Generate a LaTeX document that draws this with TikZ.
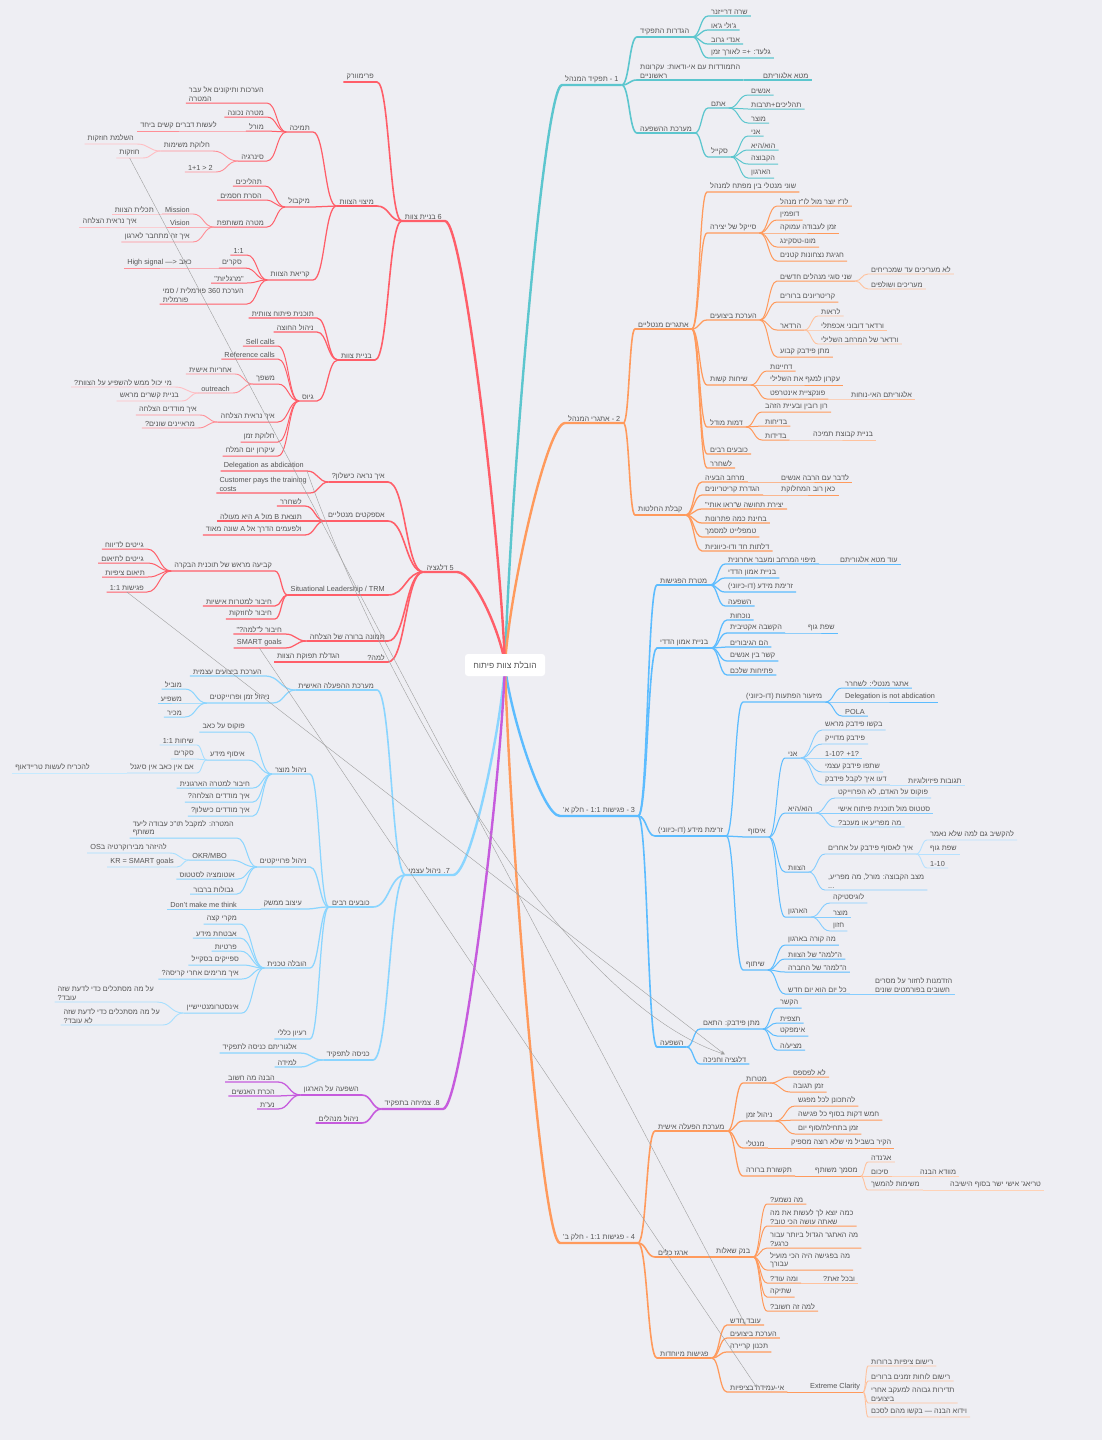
\documentclass[tikz,border=0pt]{standalone}
\usepackage{fontspec}
\usepackage{tikz}
\usepackage{xcolor}
\usetikzlibrary{calc, arrows.meta}
\setmainfont{Liberation Sans}
\newfontfamily\hebfont[Script=Hebrew]{Liberation Sans}
\TeXXeTstate=1
\newcommand{\hw}[1]{{\hebfont\beginR #1\endR}}
\definecolor{MapBg}{HTML}{EEEEF3}
\definecolor{MapText}{HTML}{555555}
\definecolor{MapTeal}{HTML}{5CC6CE}
\definecolor{MapOrange}{HTML}{FF9A5C}
\definecolor{MapBlue}{HTML}{5CBCFF}
\definecolor{MapSky}{HTML}{8AD5FF}
\definecolor{MapRed}{HTML}{FF5E69}
\definecolor{MapPurple}{HTML}{C65BDD}

\begin{document}
\begin{tikzpicture}[x=1pt, y=-1pt,
    every node/.style={font=\fontsize{7.3}{8.6}\selectfont, text=MapText, inner xsep=3pt, inner ysep=1.6pt},
    rt/.style={anchor=south west},
    lt/.style={anchor=south east},
    w0/.style={line width=2.4pt},
    w1/.style={line width=1.6pt},
    w2/.style={line width=1.25pt},
    w3/.style={line width=1pt},
    w4/.style={line width=0.9pt},
    link/.style={to path={let \p1=(\tikztostart), \p2=(\tikztotarget) in
        .. controls ({(\x1+\x2)/2},\y1) and ({(\x1+\x2)/2},\y2) .. (\tikztotarget)}},
    rel/.style={draw=gray!75, line width=0.4pt, -{Stealth[length=4pt,width=3pt]}},
    rootbox/.style={fill=white, rounded corners=3pt, minimum width=80pt, minimum height=22pt,
        font=\fontsize{8.5}{10}\selectfont}]
    \useasboundingbox[fill=MapBg] (0,0) rectangle (1102,1440);
    \coordinate (hub) at (505,665);

    % 1 - role of the manager
    \node[rt] (s1) at (562,85) {\hw{1 - תפקיד המנהל}};
    \node[rt] (s1a) at (637,37) {\hw{הגדרות התפקיד}};
    \node[rt] (s1a1) at (708,16) {\hw{שרה דרייזנר}};
    \node[rt] (s1a2) at (708,30) {\hw{ג'ולי ג'או}};
    \node[rt] (s1a3) at (708,44) {\hw{אנדי גרוב}};
    \node[rt] (s1a4) at (708,58) {\hw{גלעד: += לאורך זמן}};
    \node[rt, align=left] (s1b) at (637,80) {\hw{התמודדות עם אי-ודאות: עקרונות}\\\hw{ראשוניים}};
    \node[rt] (s1b1) at (760,80) {\hw{מטא אלגוריתם}};
    \node[rt] (s1c) at (637,133) {\hw{מערכת ההשפעה}};
    \node[rt] (s1c1) at (708,108) {\hw{אתם}};
    \node[rt] (s1c1a) at (748,95) {\hw{אנשים}};
    \node[rt] (s1c1b) at (748,109) {\hw{תהליכים+תרבות}};
    \node[rt] (s1c1c) at (748,123) {\hw{מוצר}};
    \node[rt] (s1c2) at (708,157) {\hw{סקייל}};
    \node[rt] (s1c2a) at (748,136) {\hw{אני}};
    \node[rt] (s1c2b) at (748,150) {\hw{הוא/היא}};
    \node[rt] (s1c2c) at (748,164) {\hw{הקבוצה}};
    \node[rt] (s1c2d) at (748,178) {\hw{הארגון}};

    % 2 - challenges
    \node[rt] (s2) at (565,423) {\hw{2 - אתגרי המנהל}};
    \node[rt] (s2a) at (635,329) {\hw{אתגרים מנטליים}};
    \node[rt] (s2a1) at (707,192) {\hw{שוני מנטלי בין מפתח למנהל}};
    \node[rt] (s2a2) at (707,233) {\hw{סייקל של יצירה}};
    \node[rt] (s2a2a) at (777,206) {\hw{לו"ז יוצר מול לו"ז מנהל}};
    \node[rt] (s2a2b) at (777,220) {\hw{דופמין}};
    \node[rt] (s2a2c) at (777,233) {\hw{זמן לעבודה עמוקה}};
    \node[rt] (s2a2d) at (777,247) {\hw{מונו-טסקינג}};
    \node[rt] (s2a2e) at (777,261) {\hw{חגיגת נצחונות קטנים}};
    \node[rt] (s2a3) at (707,320) {\hw{הערכת ביצועים}};
    \node[rt] (s2a3a) at (777,281) {\hw{שני סוגי מנהלים חדשים}};
    \node[rt] (s2a3a1) at (868,274) {\hw{לא מעריכים עד שמכריחים}};
    \node[rt] (s2a3a2) at (868,289) {\hw{מעריכים ושולפים}};
    \node[rt] (s2a3b) at (777,302) {\hw{קריטריונים ברורים}};
    \node[rt] (s2a3c) at (777,330) {\hw{הרדאר}};
    \node[rt] (s2a3c1) at (818,316) {\hw{לראות}};
    \node[rt] (s2a3c2) at (818,330) {\hw{ורדאר דובוני אכפתלי}};
    \node[rt] (s2a3c3) at (818,344) {\hw{ורדאר של המרחב השלילי}};
    \node[rt] (s2a3d) at (777,357) {\hw{מתן פידבק קבוע}};
    \node[rt] (s2a4) at (707,385) {\hw{שיחות קשות}};
    \node[rt] (s2a4a) at (767,371) {\hw{דחיינות}};
    \node[rt] (s2a4b) at (767,385) {\hw{עקרון למגף את השלילי}};
    \node[rt] (s2a4c) at (767,399) {\hw{פונקציית אינטרפט}};
    \node[rt] (s2a4c1) at (848,399) {\hw{אלגוריתם האי-נוחות}};
    \node[rt] (s2a5) at (707,427) {\hw{דמות מודל}};
    \node[rt] (s2a5a) at (762,412) {\hw{רון רובין ובעיית הזהב}};
    \node[rt] (s2a5b) at (762,426) {\hw{בדיחות}};
    \node[rt] (s2a5c) at (762,440) {\hw{בדידות}};
    \node[rt] (s2a5c1) at (810,440) {\hw{בניית קבוצת תמיכה}};
    \node[rt] (s2a6) at (707,454) {\hw{כובעים רבים}};
    \node[rt] (s2a7) at (707,468) {\hw{לשחרר}};
    \node[rt] (s2b) at (635,515) {\hw{קבלת החלטות}};
    \node[rt] (s2b1) at (702,482) {\hw{מרחב הבעיה}};
    \node[rt] (s2b1a) at (778,482) {\hw{לדבר עם הרבה אנשים}};
    \node[rt] (s2b2) at (702,495) {\hw{הגדרת קריטריונים}};
    \node[rt] (s2b2a) at (778,495) {\hw{כאן רוב המחלוקת}};
    \node[rt] (s2b3) at (702,509) {\hw{יצירת תחושה ש"ראו אותי"}};
    \node[rt] (s2b4) at (702,523) {\hw{בחינת כמה פתרונות}};
    \node[rt] (s2b5) at (702,537) {\hw{טמפלייט למסמך}};
    \node[rt] (s2b6) at (702,551) {\hw{דלתות חד ודו-כיווניות}};

    % 3 - one on ones, part a
    \node[rt] (s3) at (560,816) {\hw{3 - פגישות 1:1 - חלק א'}};
    \node[rt] (s3a) at (657,585) {\hw{מטרת הפגישות}};
    \node[rt] (s3a1) at (725,564) {\hw{מיפוי המרחב ומעבר אחרונית}};
    \node[rt] (s3a1a) at (837,564) {\hw{עוד מטא אלגוריתם}};
    \node[rt] (s3a2) at (725,578) {\hw{בניית אמון הדדי}};
    \node[rt] (s3a3) at (725,592) {\hw{זרימת מידע (דו-כיווני)}};
    \node[rt] (s3a4) at (725,606) {\hw{השפעה}};
    \node[rt] (s3b) at (657,648) {\hw{בניית אמון הדדי}};
    \node[rt] (s3b1) at (727,620) {\hw{נוכחות}};
    \node[rt] (s3b2) at (727,633) {\hw{הקשבה אקטיבית}};
    \node[rt] (s3b2a) at (805,633) {\hw{שפת גוף}};
    \node[rt] (s3b3) at (727,647) {\hw{הם הגיבורים}};
    \node[rt] (s3b4) at (727,661) {\hw{קשר בין אנשים}};
    \node[rt] (s3b5) at (727,675) {\hw{פתיחות שלכם}};
    \node[rt] (s3c) at (655,836) {\hw{זרימת מידע (דו-כיווני)}};
    \node[rt] (s3c1) at (743,702) {\hw{מיזעור הפתעות (דו-כיווני)}};
    \node[rt] (s3c1a) at (842,688) {\hw{אתגר מנטלי: לשחרר}};
    \node[rt] (s3c1b) at (842,702) {Delegation is not abdication};
    \node[rt] (s3c1c) at (842,716) {POLA};
    \node[rt] (s3c2) at (745,837) {\hw{איסוף}};
    \node[rt] (s3c2a) at (785,758) {\hw{אני}};
    \node[rt] (s3c2a1) at (822,730) {\hw{בקשו פידבק מראש}};
    \node[rt] (s3c2a2) at (822,744) {\hw{פידבק מדוייק}};
    \node[rt] (s3c2a3) at (822,758) {1-10? +1?};
    \node[rt] (s3c2a4) at (822,772) {\hw{שתפו פידבק עצמי}};
    \node[rt] (s3c2a5) at (822,785) {\hw{דעו איך לקבל פידבק}};
    \node[rt] (s3c2a5a) at (905,785) {\hw{תגובות פיזיולוגיות}};
    \node[rt] (s3c2b) at (785,813) {\hw{הוא/היא}};
    \node[rt] (s3c2b1) at (835,798) {\hw{פוקוס על האדם, לא הפרוייקט}};
    \node[rt] (s3c2b2) at (835,813) {\hw{סטטוס מול תוכנית פיתוח אישי}};
    \node[rt] (s3c2b3) at (835,827) {\hw{מה מפריע או מעכב?}};
    \node[rt] (s3c2c) at (785,872) {\hw{הצוות}};
    \node[rt] (s3c2c1) at (825,854) {\hw{איך לאסוף פידבק על אחרים}};
    \node[rt] (s3c2c1a) at (927,840) {\hw{להקשיב גם למה שלא נאמר}};
    \node[rt] (s3c2c1b) at (927,854) {\hw{שפת גוף}};
    \node[rt] (s3c2c1c) at (927,868) {1-10};
    \node[rt, align=left] (s3c2c2) at (825,890) {\hw{מצב הקבוצה: מורל, מה מפריע,}\\...};
    \node[rt] (s3c2d) at (785,917) {\hw{הארגון}};
    \node[rt] (s3c2d1) at (830,903) {\hw{לוגיסטיקה}};
    \node[rt] (s3c2d2) at (830,917) {\hw{מוצר}};
    \node[rt] (s3c2d3) at (830,931) {\hw{חזון}};
    \node[rt] (s3c3) at (743,970) {\hw{שיתוף}};
    \node[rt] (s3c3a) at (785,945) {\hw{מה קורה בארגון}};
    \node[rt] (s3c3b) at (785,959) {\hw{ה"למה" של הצוות}};
    \node[rt] (s3c3c) at (785,972) {\hw{ה"למה" של החברה}};
    \node[rt] (s3c3d) at (785,994) {\hw{כל יום הוא יום חדש}};
    \node[rt, align=left] (s3c3d1) at (872,994) {\hw{הזדמנות לחזור על מסרים}\\\hw{חשובים בפורמטים שונים}};
    \node[rt] (s3d) at (657,1047) {\hw{השפעה}};
    \node[rt] (s3d1) at (700,1029) {\hw{מתן פידבק: התאם}};
    \node[rt] (s3d1a) at (777,1008) {\hw{הקשר}};
    \node[rt] (s3d1b) at (777,1023) {\hw{תצפית}};
    \node[rt] (s3d1c) at (777,1036) {\hw{אימפקט}};
    \node[rt] (s3d1d) at (777,1050) {\hw{מציע/ה}};
    \node[rt] (s3d2) at (700,1064) {\hw{דלגציה וחניכה}};

    % 4 - one on ones, part b
    \node[rt] (s4) at (560,1243) {\hw{4 - פגישות 1:1 - חלק ב'}};
    \node[rt] (s4a) at (655,1131) {\hw{מערכת הפעלה אישית}};
    \node[rt] (s4a1) at (743,1083) {\hw{מטרות}};
    \node[rt] (s4a1a) at (790,1077) {\hw{לא לפספס}};
    \node[rt] (s4a1b) at (790,1092) {\hw{זמן תגובה}};
    \node[rt] (s4a2) at (743,1121) {\hw{ניהול זמן}};
    \node[rt] (s4a2a) at (795,1106) {\hw{להתכונן לכל מפגש}};
    \node[rt] (s4a2b) at (795,1120) {\hw{חמש דקות בסוף כל פגישה}};
    \node[rt] (s4a2c) at (795,1134) {\hw{זמן בתחילת/סוף יום}};
    \node[rt] (s4a3) at (743,1148) {\hw{מנטלי}};
    \node[rt] (s4a3a) at (788,1148) {\hw{הקיר בשביל מי שלא רוצה מספיק}};
    \node[rt] (s4a4) at (743,1176) {\hw{תקשורת ברורה}};
    \node[rt] (s4a4a) at (812,1176) {\hw{מסמך משותף}};
    \node[rt] (s4a4a1) at (868,1162) {\hw{אג'נדה}};
    \node[rt] (s4a4a2) at (868,1176) {\hw{סיכום}};
    \node[rt] (s4a4a2a) at (917,1176) {\hw{מוודא הבנה}};
    \node[rt] (s4a4a3) at (868,1190) {\hw{משימות להמשך}};
    \node[rt] (s4a4a3a) at (947,1190) {\hw{טריאג' אישי ישר בסוף הישיבה}};
    \node[rt] (s4b) at (655,1257) {\hw{ארגז כלים}};
    \node[rt] (s4b1) at (713,1257) {\hw{בנק שאלות}};
    \node[rt] (s4b1a) at (767,1204) {\hw{מה נשמע?}};
    \node[rt, align=left] (s4b1b) at (767,1226) {\hw{כמה יוצא לך לעשות את מה}\\\hw{שאתה עושה הכי טוב?}};
    \node[rt, align=left] (s4b1c) at (767,1248) {\hw{מה האתגר הגדול ביותר עבור}\\\hw{כרגע?}};
    \node[rt, align=left] (s4b1d) at (767,1270) {\hw{מה בפגישה היה הכי מועיל}\\\hw{עבורך}};
    \node[rt] (s4b1e) at (767,1283) {\hw{ומה עוד?}};
    \node[rt] (s4b1e1) at (820,1283) {\hw{ובכל זאת?}};
    \node[rt] (s4b1f) at (767,1297) {\hw{שתיקה}};
    \node[rt] (s4b1g) at (767,1311) {\hw{למה זה חשוב?}};
    \node[rt] (s4c) at (657,1358) {\hw{פגישות מיוחדות}};
    \node[rt] (s4c1) at (727,1325) {\hw{עובד חדש}};
    \node[rt] (s4c2) at (727,1338) {\hw{הערכת ביצועים}};
    \node[rt] (s4c3) at (727,1352) {\hw{תכנון קריירה}};
    \node[rt] (s4c4) at (727,1392) {\hw{אי-עמידה בציפיות}};
    \node[rt] (s4c4a) at (807,1392) {Extreme Clarity};
    \node[rt] (s4c4a1) at (868,1366) {\hw{רישום ציפיות ברורות}};
    \node[rt] (s4c4a2) at (868,1381) {\hw{רישום לוחות זמנים ברורים}};
    \node[rt, align=left] (s4c4a3) at (868,1403) {\hw{תדירות גבוהה למעקב אחרי}\\\hw{ביצועים}};
    \node[rt] (s4c4a4) at (868,1417) {\hw{וידוא הבנה — בקשו מהם לסכם}};

    % 6 - team building
    \node[lt] (s6) at (445,221) {\hw{6 בניית צוות}};
    \node[lt] (s6a) at (377,82) {\hw{פרימוורק}};
    \node[lt] (s6b) at (377,206) {\hw{מיצוי הצוות}};
    \node[lt] (s6b1) at (313,132) {\hw{תמיכה}};
    \node[lt, align=left] (s6b1a) at (267,103) {\hw{הערכות ותיקונים אל עבר}\\\hw{המטרה}};
    \node[lt] (s6b1b) at (267,117) {\hw{מטרה נכונה}};
    \node[lt] (s6b1c) at (267,131) {\hw{מורל}};
    \node[lt] (s6b1c1) at (220,131) {\hw{לעשות דברים קשים ביחד}};
    \node[lt] (s6b1d) at (267,161) {\hw{סינרגיה}};
    \node[lt] (s6b1d1) at (213,151) {\hw{חלוקת משימות}};
    \node[lt] (s6b1d1a) at (137,144) {\hw{השלמת חוזקות}};
    \node[lt] (s6b1d1b) at (143,158) {\hw{חוזקות}};
    \node[lt] (s6b1d2) at (216,172) {1+1 > 2};
    \node[lt] (s6b2) at (313,207) {\hw{מיקבול}};
    \node[lt] (s6b2a) at (265,186) {\hw{תהליכים}};
    \node[lt] (s6b2b) at (265,200) {\hw{הסרת חסמים}};
    \node[lt] (s6b2c) at (267,227) {\hw{מטרה משותפת}};
    \node[lt] (s6b2c1) at (193,214) {Mission};
    \node[lt] (s6b2c1a) at (157,214) {\hw{תכלית הצוות}};
    \node[lt] (s6b2c2) at (193,227) {Vision};
    \node[lt] (s6b2c2a) at (140,227) {\hw{איך נראית הצלחה}};
    \node[lt] (s6b2c3) at (193,242) {\hw{איך זה מתחבר לארגון}};
    \node[lt] (s6b3) at (313,280) {\hw{קריאת הצוות}};
    \node[lt] (s6b3a) at (247,255) {1:1};
    \node[lt] (s6b3b) at (245,268) {\hw{סקרים}};
    \node[lt] (s6b3b1) at (195,268) {High signal —> {\hebfont כאב}};
    \node[lt] (s6b3c) at (247,283) {\hw{"מרגליות"}};
    \node[lt, align=left] (s6b3d) at (247,304) {\hw{הערכת 360 פורמלית / סמי}\\\hw{פורמלית}};
    \node[lt] (s6c) at (375,360) {\hw{בניית צוות}};
    \node[lt] (s6c1) at (317,318) {\hw{תוכנית פיתוח צוותית}};
    \node[lt] (s6c2) at (317,332) {\hw{ניהול החוצה}};
    \node[lt] (s6c3) at (317,401) {\hw{גיוס}};
    \node[lt] (s6c3a) at (278,346) {Sell calls};
    \node[lt] (s6c3b) at (278,359) {Reference calls};
    \node[lt] (s6c3c) at (278,384) {\hw{משפך}};
    \node[lt] (s6c3c1) at (235,374) {\hw{אחריות אישית}};
    \node[lt] (s6c3c2) at (233,393) {outreach};
    \node[lt] (s6c3c2a) at (175,387) {\hw{מי יכול ממש להשפיע על הצוות?}};
    \node[lt] (s6c3c2b) at (182,401) {\hw{בניית קשרים מראש}};
    \node[lt] (s6c3d) at (278,422) {\hw{איך נראית הצלחה}};
    \node[lt] (s6c3d1) at (200,415) {\hw{איך מודדים הצלחה}};
    \node[lt] (s6c3d2) at (198,428) {\hw{מראיינים שונים?}};
    \node[lt] (s6c3e) at (278,442) {\hw{חלוקת זמן}};
    \node[lt] (s6c3f) at (278,456) {\hw{עיקרון יום המלח}};

    % 5 - delegation
    \node[lt] (s5) at (457,572) {\hw{5 דלגציה}};
    \node[lt] (s5a) at (388,482) {\hw{איך נראה כישלון?}};
    \node[lt] (s5a1) at (307,471) {Delegation as abdication};
    \node[lt, align=left] (s5a2) at (310,493) {Customer pays the training\\costs};
    \node[lt] (s5b) at (388,521) {\hw{אספקטים מנטליים}};
    \node[lt] (s5b1) at (305,506) {\hw{לשחרר}};
    \node[lt] (s5b2) at (305,521) {\hw{תוצאת B מול A היא מעולה}};
    \node[lt] (s5b3) at (305,535) {\hw{ולפעמים הדרך אל A שונה מאוד}};
    \node[lt] (s5c) at (388,595) {Situational Leadership / TRM};
    \node[lt] (s5c1) at (275,571) {\hw{קביעה מראש של תוכנית הבקרה}};
    \node[lt] (s5c1a) at (147,549) {\hw{גייטים לדיווח}};
    \node[lt] (s5c1b) at (147,563) {\hw{גייטים לתיאום}};
    \node[lt] (s5c1c) at (148,577) {\hw{תיאום ציפיות}};
    \node[lt] (s5c1d) at (147,592) {\hw{פגישות 1:1}};
    \node[lt] (s5c2) at (275,606) {\hw{חיבור למטרות אישיות}};
    \node[lt] (s5c3) at (275,619) {\hw{חיבור לחוזקות}};
    \node[lt] (s5d) at (388,641) {\hw{תמונה ברורה של הצלחה}};
    \node[lt] (s5d1) at (285,634) {\hw{חיבור ל"למה?"}};
    \node[lt] (s5d2) at (285,648) {SMART goals};
    \node[lt] (s5e) at (388,662) {\hw{למה?}};
    \node[lt] (s5e1) at (343,662) {\hw{הגדלת תפוקת הצוות}};

    % 7 - self management
    \node[lt] (s7) at (453,875) {\hw{7. ניהול עצמי}};
    \node[lt] (s7a) at (377,690) {\hw{מערכת ההפעלה האישית}};
    \node[lt] (s7a1) at (265,676) {\hw{הערכת ביצועים עצמית}};
    \node[lt] (s7a2) at (273,703) {\hw{ניהול זמן ופרוייקטים}};
    \node[lt] (s7a2a) at (185,689) {\hw{מוביל}};
    \node[lt] (s7a2b) at (185,703) {\hw{משפיע}};
    \node[lt] (s7a2c) at (185,717) {\hw{מכיר}};
    \node[lt] (s7b) at (373,907) {\hw{כובעים רבים}};
    \node[lt] (s7b1) at (310,774) {\hw{ניהול מוצר}};
    \node[lt] (s7b1a) at (248,732) {\hw{פוקוס על כאב}};
    \node[lt] (s7b1b) at (248,760) {\hw{איסוף מידע}};
    \node[lt] (s7b1b1) at (197,745) {\hw{שיחות 1:1}};
    \node[lt] (s7b1b2) at (197,759) {\hw{סקרים}};
    \node[lt] (s7b1b3) at (197,773) {\hw{אם אין כאב אין סיגנל}};
    \node[lt] (s7b1b3a) at (93,773) {\hw{להכריח לעשות טריידאוף}};
    \node[lt] (s7b1c) at (253,788) {\hw{חיבור למטרה הארגונית}};
    \node[lt] (s7b1d) at (253,802) {\hw{איך מודדים הצלחה?}};
    \node[lt] (s7b1e) at (253,816) {\hw{איך מודדים כישלון?}};
    \node[lt] (s7b2) at (310,867) {\hw{ניהול פרוייקטים}};
    \node[lt, align=left] (s7b2a) at (237,838) {\hw{המטרה: למקבל תו"כ עבודה ליעד}\\\hw{משותף}};
    \node[lt] (s7b2b) at (230,860) {OKR/MBO};
    \node[lt] (s7b2b1) at (170,853) {\hw{להיזהר מבירוקרטיה בOS}};
    \node[lt] (s7b2b2) at (177,867) {KR = SMART goals};
    \node[lt] (s7b2c) at (238,879) {\hw{אוטומציה לסטטוס}};
    \node[lt] (s7b2d) at (237,894) {\hw{גבולות ברבור}};
    \node[lt] (s7b3) at (305,909) {\hw{עיצוב ממשק}};
    \node[lt] (s7b3a) at (240,909) {Don't make me think};
    \node[lt] (s7b4) at (310,968) {\hw{הובלה טכנית}};
    \node[lt] (s7b4a) at (240,924) {\hw{מקרי קצה}};
    \node[lt] (s7b4b) at (240,938) {\hw{אבטחת מידע}};
    \node[lt] (s7b4c) at (240,951) {\hw{פרטיות}};
    \node[lt] (s7b4d) at (242,965) {\hw{ספייקים בסקייל}};
    \node[lt] (s7b4e) at (242,979) {\hw{איך מרימים אחרי קריסה?}};
    \node[lt] (s7b4f) at (242,1013) {\hw{אינסטרומנטיישיין}};
    \node[lt, align=left] (s7b4f1) at (157,1002) {\hw{על מה מסתכלים כדי לדעת שזה}\\\hw{עובד?}};
    \node[lt, align=left] (s7b4f2) at (163,1025) {\hw{על מה מסתכלים כדי לדעת שזה}\\\hw{לא עובד?}};
    \node[lt] (s7b5) at (310,1039) {\hw{רעיון כללי}};
    \node[lt] (s7c) at (373,1060) {\hw{כניסה לתפקיד}};
    \node[lt] (s7c1) at (300,1053) {\hw{אלגוריתם כניסה לתפקיד}};
    \node[lt] (s7c2) at (300,1067) {\hw{למידה}};

    % 8 - growth
    \node[lt] (s8) at (443,1109) {\hw{8. צמיחה בתפקיד}};
    \node[lt] (s8a) at (362,1095) {\hw{השפעה על הארגון}};
    \node[lt] (s8a1) at (278,1082) {\hw{הבנה מה חשוב}};
    \node[lt] (s8a2) at (278,1096) {\hw{הכרת האנשים}};
    \node[lt] (s8a3) at (278,1109) {\hw{נע"ת}};
    \node[lt] (s8b) at (362,1123) {\hw{ניהול מנהלים}};

    % main branches
    \draw[MapTeal, w0] (hub) .. controls +(5,-170) and +(-18,0) .. (s1.south west) -- (s1.south east);
    \draw[MapOrange, w0] (hub) .. controls +(4,-72) and +(-18,0) .. (s2.south west) -- (s2.south east);
    \draw[MapBlue, w0] (hub) .. controls +(4,45) and +(-18,0) .. (s3.south west) -- (s3.south east);
    \draw[MapOrange, w0] (hub) .. controls +(5,173) and +(-18,0) .. (s4.south west) -- (s4.south east);
    \draw[MapRed, w0] (hub) .. controls +(-5,-130) and +(18,0) .. (s6.south east) -- (s6.south west);
    \draw[MapRed, w0] (hub) .. controls +(-3,-28) and +(18,0) .. (s5.south east) -- (s5.south west);
    \draw[MapSky, w0] (hub) .. controls +(-4,63) and +(18,0) .. (s7.south east) -- (s7.south west);
    \draw[MapPurple, w0] (hub) .. controls +(-5,130) and +(18,0) .. (s8.south east) -- (s8.south west);

    % right side links
    \foreach \a/\b in {s1/s1a, s1/s1b, s1/s1c}
        \draw[MapTeal, w1, link] (\a.south east) to (\b.south west) -- (\b.south east);
    \foreach \a/\b in {s1a/s1a1, s1a/s1a2, s1a/s1a3, s1a/s1a4, s1b/s1b1, s1c/s1c1, s1c/s1c2}
        \draw[MapTeal, w2, link] (\a.south east) to (\b.south west) -- (\b.south east);
    \foreach \a/\b in {s1c1/s1c1a, s1c1/s1c1b, s1c1/s1c1c, s1c2/s1c2a, s1c2/s1c2b, s1c2/s1c2c, s1c2/s1c2d}
        \draw[MapTeal, w3, link] (\a.south east) to (\b.south west) -- (\b.south east);

    \foreach \a/\b in {s2/s2a, s2/s2b}
        \draw[MapOrange, w1, link] (\a.south east) to (\b.south west) -- (\b.south east);
    \foreach \a/\b in {s2a/s2a1, s2a/s2a2, s2a/s2a3, s2a/s2a4, s2a/s2a5, s2a/s2a6, s2a/s2a7,
            s2b/s2b1, s2b/s2b2, s2b/s2b3, s2b/s2b4, s2b/s2b5, s2b/s2b6}
        \draw[MapOrange, w2, link] (\a.south east) to (\b.south west) -- (\b.south east);
    \foreach \a/\b in {s2a2/s2a2a, s2a2/s2a2b, s2a2/s2a2c, s2a2/s2a2d, s2a2/s2a2e,
            s2a3/s2a3a, s2a3/s2a3b, s2a3/s2a3c, s2a3/s2a3d, s2a4/s2a4a, s2a4/s2a4b, s2a4/s2a4c,
            s2a5/s2a5a, s2a5/s2a5b, s2a5/s2a5c, s2b1/s2b1a, s2b2/s2b2a}
        \draw[MapOrange, w3, link] (\a.south east) to (\b.south west) -- (\b.south east);
    \foreach \a/\b in {s2a3a/s2a3a1, s2a3a/s2a3a2, s2a3c/s2a3c1, s2a3c/s2a3c2, s2a3c/s2a3c3,
            s2a4c/s2a4c1, s2a5c/s2a5c1}
        \draw[MapOrange!60, w4, link] (\a.south east) to (\b.south west) -- (\b.south east);

    \foreach \a/\b in {s3/s3a, s3/s3b, s3/s3c, s3/s3d}
        \draw[MapBlue, w1, link] (\a.south east) to (\b.south west) -- (\b.south east);
    \foreach \a/\b in {s3a/s3a1, s3a/s3a2, s3a/s3a3, s3a/s3a4, s3b/s3b1, s3b/s3b2, s3b/s3b3,
            s3b/s3b4, s3b/s3b5, s3c/s3c1, s3c/s3c2, s3c/s3c3, s3d/s3d1, s3d/s3d2}
        \draw[MapBlue, w2, link] (\a.south east) to (\b.south west) -- (\b.south east);
    \foreach \a/\b in {s3a1/s3a1a, s3b2/s3b2a, s3c1/s3c1a, s3c1/s3c1b, s3c1/s3c1c,
            s3c2/s3c2a, s3c2/s3c2b, s3c2/s3c2c, s3c2/s3c2d, s3c3/s3c3a, s3c3/s3c3b, s3c3/s3c3c,
            s3c3/s3c3d, s3d1/s3d1a, s3d1/s3d1b, s3d1/s3d1c, s3d1/s3d1d}
        \draw[MapBlue, w3, link] (\a.south east) to (\b.south west) -- (\b.south east);
    \foreach \a/\b in {s3c2a/s3c2a1, s3c2a/s3c2a2, s3c2a/s3c2a3, s3c2a/s3c2a4, s3c2a/s3c2a5,
            s3c2b/s3c2b1, s3c2b/s3c2b2, s3c2b/s3c2b3, s3c2c/s3c2c1, s3c2c/s3c2c2,
            s3c2d/s3c2d1, s3c2d/s3c2d2, s3c2d/s3c2d3, s3c3d/s3c3d1}
        \draw[MapBlue!75, w4, link] (\a.south east) to (\b.south west) -- (\b.south east);
    \foreach \a/\b in {s3c2a5/s3c2a5a, s3c2c1/s3c2c1a, s3c2c1/s3c2c1b, s3c2c1/s3c2c1c}
        \draw[MapBlue!45, w4, link] (\a.south east) to (\b.south west) -- (\b.south east);

    \foreach \a/\b in {s4/s4a, s4/s4b, s4/s4c}
        \draw[MapOrange, w1, link] (\a.south east) to (\b.south west) -- (\b.south east);
    \foreach \a/\b in {s4a/s4a1, s4a/s4a2, s4a/s4a3, s4a/s4a4, s4b/s4b1,
            s4c/s4c1, s4c/s4c2, s4c/s4c3, s4c/s4c4}
        \draw[MapOrange, w2, link] (\a.south east) to (\b.south west) -- (\b.south east);
    \foreach \a/\b in {s4a1/s4a1a, s4a1/s4a1b, s4a2/s4a2a, s4a2/s4a2b, s4a2/s4a2c, s4a3/s4a3a,
            s4a4/s4a4a, s4b1/s4b1a, s4b1/s4b1b, s4b1/s4b1c, s4b1/s4b1d, s4b1/s4b1e, s4b1/s4b1f,
            s4b1/s4b1g, s4c4/s4c4a}
        \draw[MapOrange, w3, link] (\a.south east) to (\b.south west) -- (\b.south east);
    \foreach \a/\b in {s4a4a/s4a4a1, s4a4a/s4a4a2, s4a4a/s4a4a3, s4b1e/s4b1e1,
            s4c4a/s4c4a1, s4c4a/s4c4a2, s4c4a/s4c4a3, s4c4a/s4c4a4}
        \draw[MapOrange!60, w4, link] (\a.south east) to (\b.south west) -- (\b.south east);
    \foreach \a/\b in {s4a4a2/s4a4a2a, s4a4a3/s4a4a3a}
        \draw[MapOrange!45, w4, link] (\a.south east) to (\b.south west) -- (\b.south east);

    % left side links
    \foreach \a/\b in {s6/s6a, s6/s6b, s6/s6c}
        \draw[MapRed, w1, link] (\a.south west) to (\b.south east) -- (\b.south west);
    \foreach \a/\b in {s6b/s6b1, s6b/s6b2, s6b/s6b3, s6c/s6c1, s6c/s6c2, s6c/s6c3}
        \draw[MapRed, w2, link] (\a.south west) to (\b.south east) -- (\b.south west);
    \foreach \a/\b in {s6b1/s6b1a, s6b1/s6b1b, s6b1/s6b1c, s6b1/s6b1d, s6b2/s6b2a, s6b2/s6b2b,
            s6b2/s6b2c, s6b3/s6b3a, s6b3/s6b3b, s6b3/s6b3c, s6b3/s6b3d, s6c3/s6c3a, s6c3/s6c3b,
            s6c3/s6c3c, s6c3/s6c3d, s6c3/s6c3e, s6c3/s6c3f}
        \draw[MapRed, w3, link] (\a.south west) to (\b.south east) -- (\b.south west);
    \foreach \a/\b in {s6b1c/s6b1c1, s6b1d/s6b1d1, s6b1d/s6b1d2, s6b2c/s6b2c1, s6b2c/s6b2c2,
            s6b2c/s6b2c3, s6b3b/s6b3b1, s6c3c/s6c3c1, s6c3c/s6c3c2, s6c3d/s6c3d1, s6c3d/s6c3d2}
        \draw[MapRed!70, w4, link] (\a.south west) to (\b.south east) -- (\b.south west);
    \foreach \a/\b in {s6b1d1/s6b1d1a, s6b1d1/s6b1d1b, s6b2c1/s6b2c1a, s6b2c2/s6b2c2a,
            s6c3c2/s6c3c2a, s6c3c2/s6c3c2b}
        \draw[MapRed!40, w4, link] (\a.south west) to (\b.south east) -- (\b.south west);

    \foreach \a/\b in {s5/s5a, s5/s5b, s5/s5c, s5/s5d, s5/s5e}
        \draw[MapRed, w1, link] (\a.south west) to (\b.south east) -- (\b.south west);
    \foreach \a/\b in {s5a/s5a1, s5a/s5a2, s5b/s5b1, s5b/s5b2, s5b/s5b3, s5c/s5c1, s5c/s5c2,
            s5c/s5c3, s5d/s5d1, s5d/s5d2, s5e/s5e1}
        \draw[MapRed, w2, link] (\a.south west) to (\b.south east) -- (\b.south west);
    \foreach \a/\b in {s5c1/s5c1a, s5c1/s5c1b, s5c1/s5c1c, s5c1/s5c1d}
        \draw[MapRed, w3, link] (\a.south west) to (\b.south east) -- (\b.south west);

    \foreach \a/\b in {s7/s7a, s7/s7b, s7/s7c}
        \draw[MapSky, w1, link] (\a.south west) to (\b.south east) -- (\b.south west);
    \foreach \a/\b in {s7a/s7a1, s7a/s7a2, s7b/s7b1, s7b/s7b2, s7b/s7b3, s7b/s7b4, s7b/s7b5,
            s7c/s7c1, s7c/s7c2}
        \draw[MapSky, w2, link] (\a.south west) to (\b.south east) -- (\b.south west);
    \foreach \a/\b in {s7a2/s7a2a, s7a2/s7a2b, s7a2/s7a2c, s7b1/s7b1a, s7b1/s7b1b, s7b1/s7b1c,
            s7b1/s7b1d, s7b1/s7b1e, s7b2/s7b2a, s7b2/s7b2b, s7b2/s7b2c, s7b2/s7b2d, s7b3/s7b3a,
            s7b4/s7b4a, s7b4/s7b4b, s7b4/s7b4c, s7b4/s7b4d, s7b4/s7b4e, s7b4/s7b4f}
        \draw[MapSky, w3, link] (\a.south west) to (\b.south east) -- (\b.south west);
    \foreach \a/\b in {s7b1b/s7b1b1, s7b1b/s7b1b2, s7b1b/s7b1b3, s7b2b/s7b2b1, s7b2b/s7b2b2,
            s7b4f/s7b4f1, s7b4f/s7b4f2}
        \draw[MapSky!75, w4, link] (\a.south west) to (\b.south east) -- (\b.south west);
    \draw[MapSky!50, w4, link] (s7b1b3.south west) to (s7b1b3a.south east) -- (s7b1b3a.south west);

    \foreach \a/\b in {s8/s8a, s8/s8b}
        \draw[MapPurple, w1, link] (\a.south west) to (\b.south east) -- (\b.south west);
    \foreach \a/\b in {s8a/s8a1, s8a/s8a2, s8a/s8a3}
        \draw[MapPurple, w2, link] (\a.south west) to (\b.south east) -- (\b.south west);

    % relations
    \draw[rel] (s6b1d1b.south) -- (s4c1.south);
    \draw[rel] (s5d2.south) -- (s4c4.center);
    \draw[rel] (s5c1d.south) -- (s3d2.north);
    \draw[rel] (s5a1.south east) .. controls (380,680) and (560,1000) .. (s3d2.north);

    % centre
    \node[rootbox] (root) at (hub) {\hw{הובלת צוות פיתוח}};
\end{tikzpicture}
\end{document}
